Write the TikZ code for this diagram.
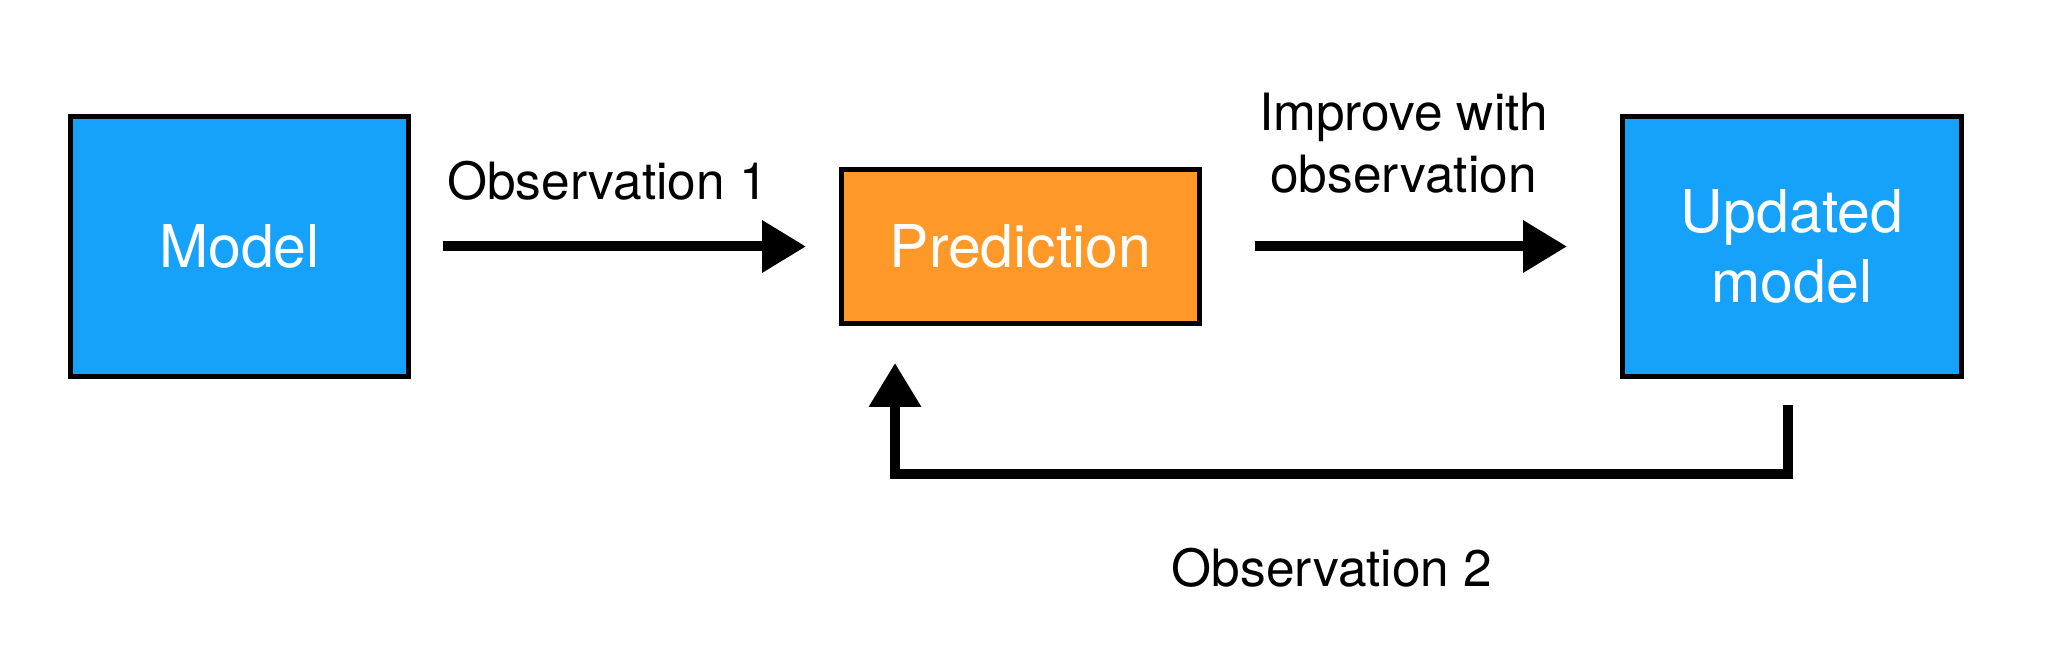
\documentclass[tikz,border=0pt]{standalone}
\usepackage{fontspec}
\setmainfont{TeX Gyre Heros}
\usetikzlibrary{arrows.meta}
\definecolor{boxblue}{RGB}{22,161,251}
\definecolor{boxorange}{RGB}{254,153,41}
\tikzset{
  box/.style={draw=black, line width=2.5pt, text=white, inner sep=0pt,
    font=\fontsize{29.5}{35}\selectfont, align=center},
  arr/.style={draw=black, line width=5pt, -{Triangle[length=22pt,width=25pt]}},
  lbl/.style={font=\fontsize{25.7}{31}\selectfont, inner sep=0pt, align=center}
}
\begin{document}
\begin{tikzpicture}[x=0.5pt,y=-0.5pt]
\useasboundingbox (0,0) rectangle (2060,656);
\node[box, fill=boxblue, minimum width=169pt, minimum height=130pt] (model) at (239.5,246.5) {Model};
\node[box, fill=boxorange, minimum width=179pt, minimum height=77pt] (pred) at (1020.5,246.5) {Prediction};
\node[box, fill=boxblue, minimum width=169.5pt, minimum height=130pt] (upd) at (1792,246.5) {Updated\\model};
\draw[arr, shorten <=16pt, shorten >=16.5pt] (model.east) -- (pred.west);
\draw[arr, shorten <=26.5pt, shorten >=26.5pt] (pred.east) -- (upd.west);
\draw[arr] ([xshift=-2pt,yshift=-13pt]upd.south) -- ++(0,69) -| ([xshift=-62.75pt,yshift=-18.5pt]pred.south);
\node[lbl, anchor=base] (l1) at (607.5,200) {Observation 1};
\node[lbl, anchor=base] (l2) at (1403.5,193) {Improve with\\observation};
\node[lbl, anchor=base] (l3) at (1332,587) {Observation 2};
\end{tikzpicture}
\end{document}
